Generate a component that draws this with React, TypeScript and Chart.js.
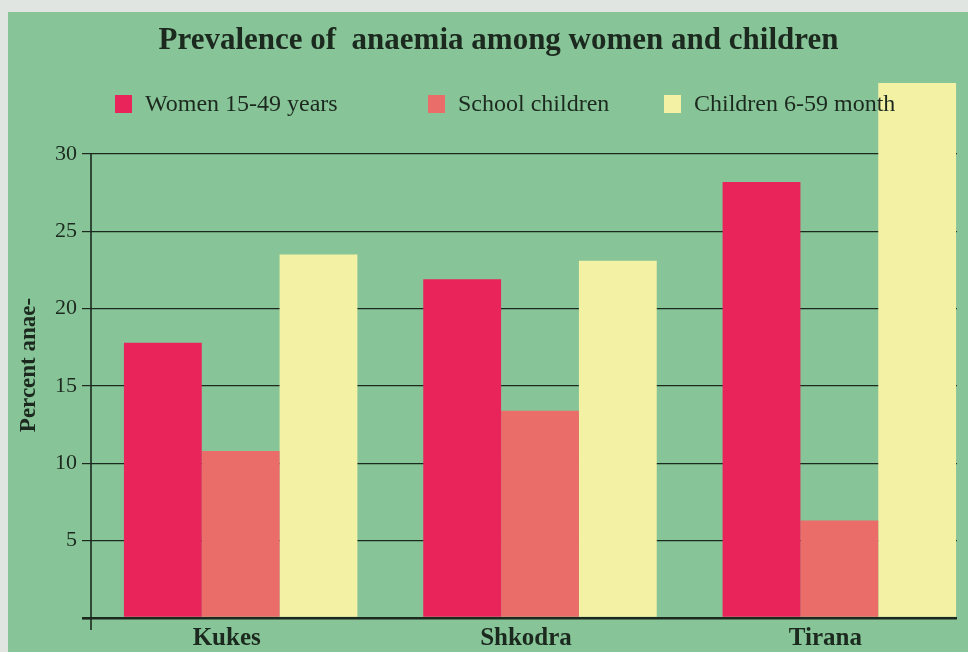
import React, { useEffect, useRef } from "react";
import { Chart, registerables } from "chart.js";

Chart.register(...registerables);

const categories = ["Kukes", "Shkodra", "Tirana"];
const womenValues = [17.8, 21.9, 28.2];
const schoolValues = [10.8, 13.4, 6.3];
const infantValues = [23.5, 23.1, 34.6];
const seriesLabels = ["Women 15-49 years", "School children", "Children 6-59 month"];
const yTickValues = [0, 5, 10, 15, 20, 25, 30];
const chartTitle = "Prevalence of  anaemia among women and children";
const yAxisTitle = "Percent anae-";

const INK = "#1c291e";
const GREEN = "#87c498";
const SERIF = "'Liberation Serif', 'Times New Roman', serif";
const COLORS = ["#e8245a", "#ea6d69", "#f3f1a3"];

const backgroundPlugin = {
  id: "bgPlugin",
  beforeDraw(chart: any) {
    const { ctx, width, height } = chart;
    ctx.save();
    ctx.fillStyle = "#e1e5e2";
    ctx.fillRect(0, 0, width, height);
    ctx.fillStyle = GREEN;
    ctx.fillRect(8, 12, width - 8, height - 12);
    ctx.restore();
  },
  beforeDatasetsDraw(chart: any) {
    const { ctx, chartArea, scales, width } = chart;
    const y = scales.y;
    ctx.save();
    // plot frame ends at the last bar
    ctx.fillStyle = GREEN;
    ctx.fillRect(957, chartArea.top, width - 957, chartArea.bottom - chartArea.top + 3);
    ctx.strokeStyle = INK;
    ctx.lineWidth = 1.6;
    ctx.beginPath();
    ctx.moveTo(chartArea.left, y.getPixelForValue(30) - 1);
    ctx.lineTo(chartArea.left, chartArea.bottom + 12);
    ctx.stroke();
    // y title
    ctx.translate(29, 365);
    ctx.rotate(-Math.PI / 2);
    ctx.fillStyle = INK;
    ctx.font = `bold 23px ${SERIF}`;
    ctx.textAlign = "center";
    ctx.textBaseline = "middle";
    ctx.fillText(yAxisTitle, 0, 0);
    ctx.restore();
  },
  afterDatasetsDraw(chart: any) {
    const { ctx } = chart;
    const xs = [115, 428, 664];
    ctx.save();
    ctx.font = `24px ${SERIF}`;
    ctx.textBaseline = "alphabetic";
    ctx.textAlign = "left";
    chart.data.datasets.forEach((ds: any, i: number) => {
      ctx.fillStyle = ds.backgroundColor;
      ctx.fillRect(xs[i], 95, 17, 18);
      ctx.fillStyle = INK;
      ctx.fillText(ds.label, xs[i] + 30, 111);
    });
    ctx.restore();
  },
};

export default function App() {
  const ref = useRef<HTMLCanvasElement>(null);
  useEffect(() => {
    if (!ref.current) return;
    const chart = new Chart(ref.current, {
      type: "bar",
      data: {
        labels: categories,
        datasets: [
          { label: seriesLabels[0], data: womenValues, backgroundColor: COLORS[0] },
          { label: seriesLabels[1], data: schoolValues, backgroundColor: COLORS[1] },
          { label: seriesLabels[2], data: infantValues, backgroundColor: COLORS[2] },
        ],
      },
      options: {
        responsive: false,
        animation: false,
        devicePixelRatio: 1,
        layout: { padding: { left: 8, right: 0, top: 0, bottom: 0 } },
        datasets: { bar: { categoryPercentage: 0.78, barPercentage: 1.0 } },
        plugins: {
          legend: { display: false },
          tooltip: { enabled: false },
          title: {
            display: true,
            text: chartTitle,
            color: INK,
            font: { family: SERIF, size: 31, weight: "bold", lineHeight: 1.2 },
            padding: { top: 22, bottom: 9.8 },
          },
        },
        scales: {
          x: {
            offset: true,
            grid: { display: false, drawTicks: false },
            border: { display: false },
            afterFit: (scale: any) => {
              scale.height = 34;
            },
            ticks: {
              color: INK,
              padding: 6,
              labelOffset: -14,
              font: { family: SERIF, size: 25, weight: "bold", lineHeight: 1.2 },
            },
          },
          y: {
            min: 0,
            max: 35.5,
            afterBuildTicks: (scale: any) => {
              scale.ticks = yTickValues.map((v) => ({ value: v }));
            },
            afterFit: (scale: any) => {
              scale.width = 83;
            },
            border: { display: false },
            grid: {
              color: INK,
              tickColor: INK,
              tickLength: 9,
              lineWidth: (c: any) => (c.tick && c.tick.value === 0 ? 2.6 : 1.2),
            },
            ticks: {
              color: INK,
              padding: 5,
              font: { family: SERIF, size: 22 },
              callback: (v: any) => (v === 0 ? "" : String(v)),
            },
          },
        },
      },
      plugins: [backgroundPlugin],
    });
    return () => chart.destroy();
  }, []);
  return (
    <div style={{ position: "absolute", left: 0, top: 0, width: 968, height: 652, overflow: "hidden" }}>
      <canvas ref={ref} width={989} height={652} />
    </div>
  );
}
